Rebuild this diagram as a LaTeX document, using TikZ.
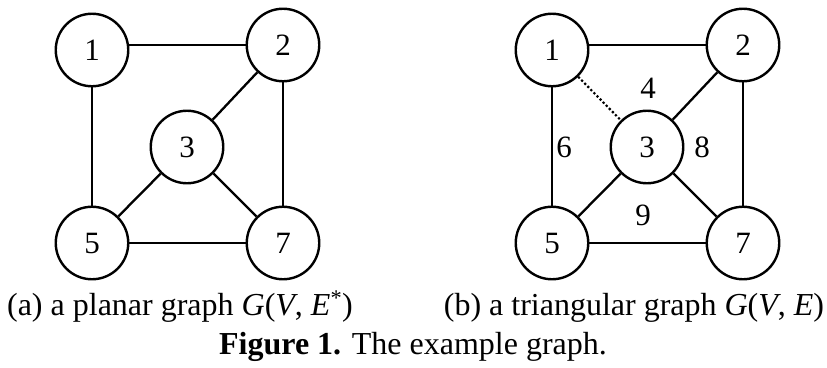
\documentclass[tikz,border=0pt]{standalone}
\usepackage{fontspec}
\setmainfont{Liberation Serif}
\usepackage{tikz}
\usetikzlibrary{positioning}

\begin{document}
\begin{tikzpicture}[
    x=1pt, y=-1pt,
    vertex/.style={draw, circle, line width=2.4pt, minimum size=72.5pt,
                   inner sep=0pt, font=\fontsize{31}{31}\selectfont},
    edge/.style={line width=2.3pt},
    missing/.style={line width=2.2pt, dash pattern=on 2.2pt off 2.2pt},
    facelabel/.style={inner sep=0pt, font=\fontsize{31}{31}\selectfont},
    caption/.style={anchor=base, inner sep=0pt, font=\fontsize{32}{32}\selectfont},
]
\useasboundingbox (0,0) rectangle (827,367);

% (a) planar graph
\node[vertex] (a1) at (92,50)   {1};
\node[vertex] (a2) at (283,45)  {2};
\node[vertex] (a3) at (187,147) {3};
\node[vertex] (a5) at (92,243)  {5};
\node[vertex] (a7) at (283,243) {7};

\draw[edge] (a1.east |- a2.west) -- (a2.west);
\draw[edge] (a1) -- (a5);
\draw[edge] (a2) -- (a7);
\draw[edge] (a2) -- (a3);
\draw[edge] (a3) -- (a5);
\draw[edge] (a3) -- (a7);
\draw[edge] (a5) -- (a7);

% (b) triangular graph
\node[vertex] (b1) at (552,50)  {1};
\node[vertex] (b2) at (743,45)  {2};
\node[vertex] (b3) at (647,147) {3};
\node[vertex] (b5) at (552,243) {5};
\node[vertex] (b7) at (743,243) {7};

\draw[edge] (b1.east |- b2.west) -- (b2.west);
\draw[edge] (b1) -- (b5);
\draw[edge] (b2) -- (b7);
\draw[edge] (b2) -- (b3);
\draw[edge] (b3) -- (b5);
\draw[edge] (b3) -- (b7);
\draw[edge] (b5) -- (b7);
\draw[missing] (b1) -- (b3);

\node[facelabel] (f4) at (648,88)  {4};
\node[facelabel] (f6) at (564,147) {6};
\node[facelabel] (f8) at (702,147) {8};
\node[facelabel] (f9) at (643,215) {9};

% captions
\node[caption] (capa) at (180,315)
    {(a) a planar graph \textit{G}(\textit{V}, \textit{E}\textsuperscript{*})};
\node[caption] (capb) at (634,315)
    {(b) a triangular graph \textit{G}(\textit{V}, \textit{E})};
\node[caption] (fig) at (413,354)
    {\textbf{Figure 1.} The example graph.};
\end{tikzpicture}
\end{document}
